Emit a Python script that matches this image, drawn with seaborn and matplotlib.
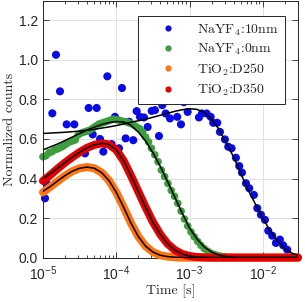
import matplotlib
matplotlib.use("Agg")
import matplotlib.pyplot as plt
import numpy as np
import seaborn as sns
from matplotlib.lines import Line2D
from matplotlib.legend_handler import HandlerLine2D
from matplotlib.ticker import FixedLocator, NullFormatter

# log10(time) grid for the fitted curves and the dense red / orange traces
fit_logt = [-5.0, -4.9, -4.8, -4.7, -4.6, -4.5, -4.4, -4.3, -4.2, -4.1,
            -4.0, -3.9, -3.8, -3.7, -3.6, -3.5, -3.4, -3.3, -3.2, -3.1,
            -3.0, -2.9, -2.8, -2.7, -2.6, -2.5, -2.4, -2.3, -2.2, -2.1,
            -2.0, -1.9, -1.8, -1.7, -1.6, -1.52]

fit_10nm = [0.628, 0.630, 0.632, 0.634, 0.637, 0.640, 0.644, 0.649, 0.655, 0.661,
            0.668, 0.676, 0.685, 0.692, 0.700, 0.710, 0.720, 0.730, 0.740, 0.748,
            0.753, 0.750, 0.735, 0.700, 0.650, 0.580, 0.510, 0.425, 0.342, 0.270,
            0.200, 0.135, 0.085, 0.045, 0.022, 0.012]
fit_0nm = [0.545, 0.560, 0.575, 0.592, 0.610, 0.628, 0.645, 0.660, 0.673, 0.683,
           0.688, 0.686, 0.670, 0.635, 0.590, 0.530, 0.462, 0.385, 0.305, 0.225,
           0.150, 0.095, 0.054, 0.028, 0.013, 0.005, 0.002, 0.0, 0.0, 0.0,
           0.0, 0.0, 0.0, 0.0, 0.0, 0.0]
fit_d250 = [0.335, 0.360, 0.388, 0.415, 0.437, 0.452, 0.458, 0.452, 0.430, 0.390,
            0.330, 0.255, 0.175, 0.107, 0.058, 0.028, 0.012, 0.005, 0.002, 0.0,
            0.0, 0.0, 0.0, 0.0, 0.0, 0.0, 0.0, 0.0, 0.0, 0.0,
            0.0, 0.0, 0.0, 0.0, 0.0, 0.0]
fit_d350 = [0.400, 0.425, 0.452, 0.480, 0.508, 0.533, 0.555, 0.570, 0.578, 0.572,
            0.545, 0.490, 0.415, 0.335, 0.255, 0.180, 0.118, 0.070, 0.038, 0.018,
            0.008, 0.003, 0.001, 0.0, 0.0, 0.0, 0.0, 0.0, 0.0, 0.0,
            0.0, 0.0, 0.0, 0.0, 0.0, 0.0]

# measured TiO2 traces (dense, drawn as thick bands)
data_d250 = [0.330, 0.358, 0.386, 0.414, 0.437, 0.452, 0.458, 0.452, 0.430, 0.390,
             0.330, 0.255, 0.175, 0.107, 0.058, 0.028, 0.012, 0.005, 0.002, 0.0,
             0.0, 0.0, 0.0, 0.0, 0.0, 0.0, 0.0, 0.0, 0.0, 0.0,
             0.0, 0.0, 0.0, 0.0, 0.0, 0.0]
data_d350 = [0.388, 0.418, 0.450, 0.480, 0.508, 0.533, 0.555, 0.570, 0.578, 0.572,
             0.545, 0.490, 0.415, 0.335, 0.255, 0.180, 0.118, 0.070, 0.038, 0.018,
             0.008, 0.003, 0.001, 0.0, 0.0, 0.0, 0.0, 0.0, 0.0, 0.0,
             0.0, 0.0, 0.0, 0.0, 0.0, 0.0]

# NaYF4:10nm measured points
logt_10nm = [-4.973, -4.959, -4.873, -4.823, -4.768, -4.677, -4.573, -4.427, -4.377, -4.322,
             -4.267, -4.222, -4.177, -4.122, -4.063, -4.018, -3.963, -3.922, -3.872, -3.823,
             -3.768, -3.722, -3.677, -3.622, -3.572, -3.517, -3.472, -3.417, -3.372, -3.326,
             -3.267, -3.222, -3.168, -3.117, -3.076, -3.026, -2.981, -2.926, -2.872, -2.831,
             -2.767, -2.712, -2.677, -2.622, -2.585, -2.517, -2.472, -2.426, -2.367, -2.322,
             -2.285, -2.230, -2.186, -2.122, -2.076, -2.026, -1.971, -1.926, -1.872, -1.821,
             -1.767, -1.722, -1.667]
val_10nm = [0.300, 0.380, 0.730, 1.026, 0.841, 0.674, 0.674, 0.527, 0.757, 0.623,
            0.757, 0.600, 0.536, 0.917, 0.574, 0.712, 0.553, 0.858, 0.603, 0.687,
            0.594, 0.741, 0.712, 0.709, 0.661, 0.742, 0.746, 0.615, 0.771, 0.729,
            0.704, 0.799, 0.712, 0.674, 0.786, 0.737, 0.816, 0.799, 0.709, 0.729,
            0.729, 0.712, 0.682, 0.682, 0.636, 0.598, 0.561, 0.553, 0.505, 0.463,
            0.430, 0.376, 0.351, 0.317, 0.250, 0.217, 0.191, 0.136, 0.111, 0.074,
            0.091, 0.062, 0.040]

# NaYF4:0nm measured points
logt_0nm = [-5.0, -4.96, -4.92, -4.88, -4.84, -4.80, -4.76, -4.72, -4.68, -4.64,
            -4.60, -4.56, -4.52, -4.48, -4.44, -4.40, -4.36, -4.32, -4.28, -4.24,
            -4.20, -4.16, -4.12, -4.08, -4.04, -4.00, -3.96, -3.92, -3.88, -3.84,
            -3.80, -3.76, -3.72, -3.68, -3.64, -3.60, -3.56, -3.52, -3.475, -3.43,
            -3.385, -3.34, -3.295, -3.25, -3.205, -3.16, -3.115, -3.07, -3.025, -2.98,
            -2.935, -2.89, -2.845, -2.80, -2.755, -2.71, -2.665, -2.62, -2.575, -2.53,
            -2.485, -2.44]
val_0nm = [0.510, 0.515, 0.530, 0.535, 0.545, 0.550, 0.557, 0.565, 0.575, 0.585,
           0.590, 0.595, 0.620, 0.630, 0.635, 0.640, 0.645, 0.655, 0.665, 0.675,
           0.680, 0.685, 0.690, 0.695, 0.700, 0.698, 0.695, 0.690, 0.688, 0.683,
           0.678, 0.670, 0.660, 0.652, 0.635, 0.610, 0.585, 0.553, 0.520, 0.485,
           0.443, 0.410, 0.375, 0.340, 0.310, 0.275, 0.235, 0.195, 0.160, 0.130,
           0.105, 0.082, 0.062, 0.046, 0.033, 0.023, 0.016, 0.011, 0.007, 0.004,
           0.002, 0.001]

labels = [r'NaYF$_4$:10nm', r'NaYF$_4$:0nm', r'TiO$_2$:D250', r'TiO$_2$:D350']
colors = ['#0a0ae8', '#3d9e3d', '#ff7410', '#e60000']


class MarkerRight(HandlerLine2D):
    # put the legend marker a bit right of the handle centre (matlab-like)
    def get_xdata(self, legend, xdescent, ydescent, width, height, fontsize):
        xdata, _ = super().get_xdata(legend, xdescent, ydescent, width, height, fontsize)
        return xdata, [-xdescent + 0.6 * width]


sns.set_style("ticks")
plt.rcParams['font.family'] = ['Liberation Sans', 'DejaVu Sans']
plt.rcParams['mathtext.fontset'] = 'cm'

fig = plt.figure(figsize=(3.05, 3.02), dpi=100)
ax = fig.add_axes([0.141, 0.147, 0.836, 0.851])

t_fit = 10.0 ** np.array(fit_logt)

# dense TiO2 traces as thick bands
sns.lineplot(x=t_fit, y=data_d250, color=colors[2], lw=5.8, ax=ax,
             solid_capstyle='round', clip_on=False, zorder=3)
sns.lineplot(x=t_fit, y=data_d350, color=colors[3], lw=5.8, ax=ax,
             solid_capstyle='round', clip_on=False, zorder=3)

sns.scatterplot(x=10.0 ** np.array(logt_10nm), y=val_10nm, color=colors[0],
                s=34, edgecolor='none', ax=ax, zorder=2, clip_on=False)
sns.scatterplot(x=10.0 ** np.array(logt_0nm), y=val_0nm, color=colors[1],
                s=30, edgecolor='none', ax=ax, zorder=2, clip_on=False)

for fit in [fit_10nm, fit_0nm, fit_d250, fit_d350]:
    sns.lineplot(x=t_fit, y=fit, color='black', lw=1.1, ax=ax, zorder=4)

ax.set_xscale('log')
ax.set_xlim(1e-5, 10 ** -1.52)
ax.set_ylim(0, 1.3)

ax.xaxis.set_major_locator(FixedLocator([1e-5, 1e-4, 1e-3, 1e-2]))
ax.set_xticklabels([r'$\mathregular{10^{-5}}$', r'$\mathregular{10^{-4}}$',
                    r'$\mathregular{10^{-3}}$', r'$\mathregular{10^{-2}}$'])
minors = [m * 10.0 ** e for e in [-5, -4, -3, -2] for m in range(2, 10)]
ax.xaxis.set_minor_locator(FixedLocator(minors))
ax.xaxis.set_minor_formatter(NullFormatter())
ax.set_yticks([0.0, 0.2, 0.4, 0.6, 0.8, 1.0, 1.2])
ax.set_yticklabels(['0.0', '0.2', '0.4', '0.6', '0.8', '1.0', '1.2'])

ax.tick_params(which='both', direction='in', top=True, right=True,
               labelsize=10, colors='0.15', width=0.6)
ax.tick_params(which='major', length=4)
ax.tick_params(which='minor', length=2)
ax.tick_params(axis='x', pad=5)
ax.grid(True, which='major', color='0.88', lw=0.7)
ax.set_axisbelow(True)
for sp in ax.spines.values():
    sp.set_color('0.15')
    sp.set_linewidth(0.7)

ax.set_xlabel('Time [s]', fontsize=10, family='cmr10', labelpad=1)
ax.set_ylabel('Normalized counts', fontsize=10, family='cmr10', labelpad=2)

handles = [Line2D([], [], ls='none', marker='o', ms=4.5, mec='none', mfc=c) for c in colors]
leg = ax.legend(handles, labels, loc='upper right', prop={'family': 'cmr10', 'size': 10},
                frameon=True, fancybox=False, framealpha=1, edgecolor='0.15',
                borderpad=0.45, labelspacing=0.3, handlelength=3.4, handletextpad=0.35,
                handler_map={Line2D: MarkerRight()},
                bbox_to_anchor=(0.976, 0.967))
leg.get_frame().set_linewidth(0.7)

fig.savefig('out.png', dpi=100)
